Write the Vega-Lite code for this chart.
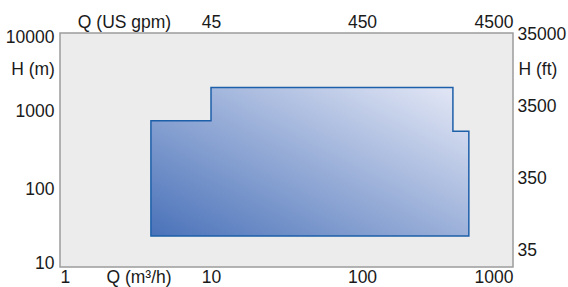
{
  "$schema": "https://vega.github.io/schema/vega-lite/v6.json",
  "width": 453,
  "height": 234,
  "autosize": {"type": "none"},
  "padding": {"left": 60, "top": 33, "right": 55, "bottom": 20},
  "background": "white",
  "config": {
    "view": {"fill": "#ebeceb", "stroke": "#9c9c9c", "strokeWidth": 1.5},
    "font": "Liberation Sans",
    "axis": {
      "grid": false, "domain": false, "ticks": false, "tickSize": 0,
      "labelFont": "Liberation Sans", "labelFontSize": 17.5, "labelColor": "#1a1a1a",
      "titleFont": "Liberation Sans", "titleFontSize": 17.5, "titleFontWeight": "normal", "titleColor": "#1a1a1a"
    }
  },
  "datasets": {
    "pump": [
      {"Q": 4, "H": 750, "Hmin": 25},
      {"Q": 10, "H": 2000, "Hmin": 25},
      {"Q": 400, "H": 550, "Hmin": 25},
      {"Q": 510, "H": 550, "Hmin": 25}
    ],
    "imperial": [
      {"gpm": 45, "ft": 350},
      {"gpm": 450, "ft": 3500}
    ]
  },
  "layer": [
    {
      "data": {"name": "pump"},
      "mark": {
        "type": "area",
        "interpolate": "step-after",
        "stroke": "#1d5fa9",
        "strokeWidth": 1.5,
        "fill": {
          "gradient": "linear",
          "x1": 0, "y1": 1, "x2": 1, "y2": 0.1,
          "stops": [
            {"offset": 0, "color": "#4a72b9"},
            {"offset": 1, "color": "#dfe4f4"}
          ]
        }
      },
      "encoding": {
        "x": {
          "field": "Q", "type": "quantitative",
          "scale": {"type": "log", "domain": [1, 1000], "nice": false},
          "axis": {
            "orient": "bottom", "values": [1, 10, 100, 1000], "format": "d",
            "labelFlush": true, "labelPadding": 10.5, "labelBaseline": "middle",
            "title": "Q (m³/h)", "titleX": 78.5, "titleY": 10.5, "titleAlign": "center", "titleBaseline": "middle", "titleAnchor": null
          }
        },
        "y": {
          "field": "H", "type": "quantitative",
          "scale": {"type": "log", "domain": [10, 10000], "nice": false},
          "axis": {
            "orient": "left", "values": [10, 100, 1000, 10000], "format": "d",
            "labelFlush": true, "labelFlushOffset": 5, "labelPadding": 6,
            "title": "H (m)", "titleAngle": 0, "titleX": -27.5, "titleY": 36.5, "titleAlign": "center", "titleBaseline": "middle", "titleAnchor": null
          }
        },
        "y2": {"field": "Hmin"}
      }
    },
    {
      "data": {"name": "imperial"},
      "mark": {"type": "point", "opacity": 0},
      "encoding": {
        "x": {
          "field": "gpm", "type": "quantitative",
          "scale": {"type": "log", "domain": [4.5, 4500], "nice": false},
          "axis": {
            "orient": "top", "values": [45, 450, 4500], "format": "d",
            "labelFlush": true, "labelPadding": 11, "labelBaseline": "middle",
            "title": "Q (US gpm)", "titleX": 64, "titleY": -11, "titleAlign": "center", "titleBaseline": "middle", "titleAnchor": null
          }
        },
        "y": {
          "field": "ft", "type": "quantitative",
          "scale": {"type": "log", "domain": [20.3, 37300], "nice": false},
          "axis": {
            "orient": "right", "values": [35, 350, 3500, 35000], "format": "d",
            "labelPadding": 4, "labelFlush": false,
            "title": "H (ft)", "titleAngle": 0, "titleX": 5, "titleY": 36.5, "titleAlign": "left", "titleBaseline": "middle", "titleAnchor": null
          }
        }
      }
    }
  ],
  "resolve": {"scale": {"x": "independent", "y": "independent"}, "axis": {"x": "independent", "y": "independent"}}
}
